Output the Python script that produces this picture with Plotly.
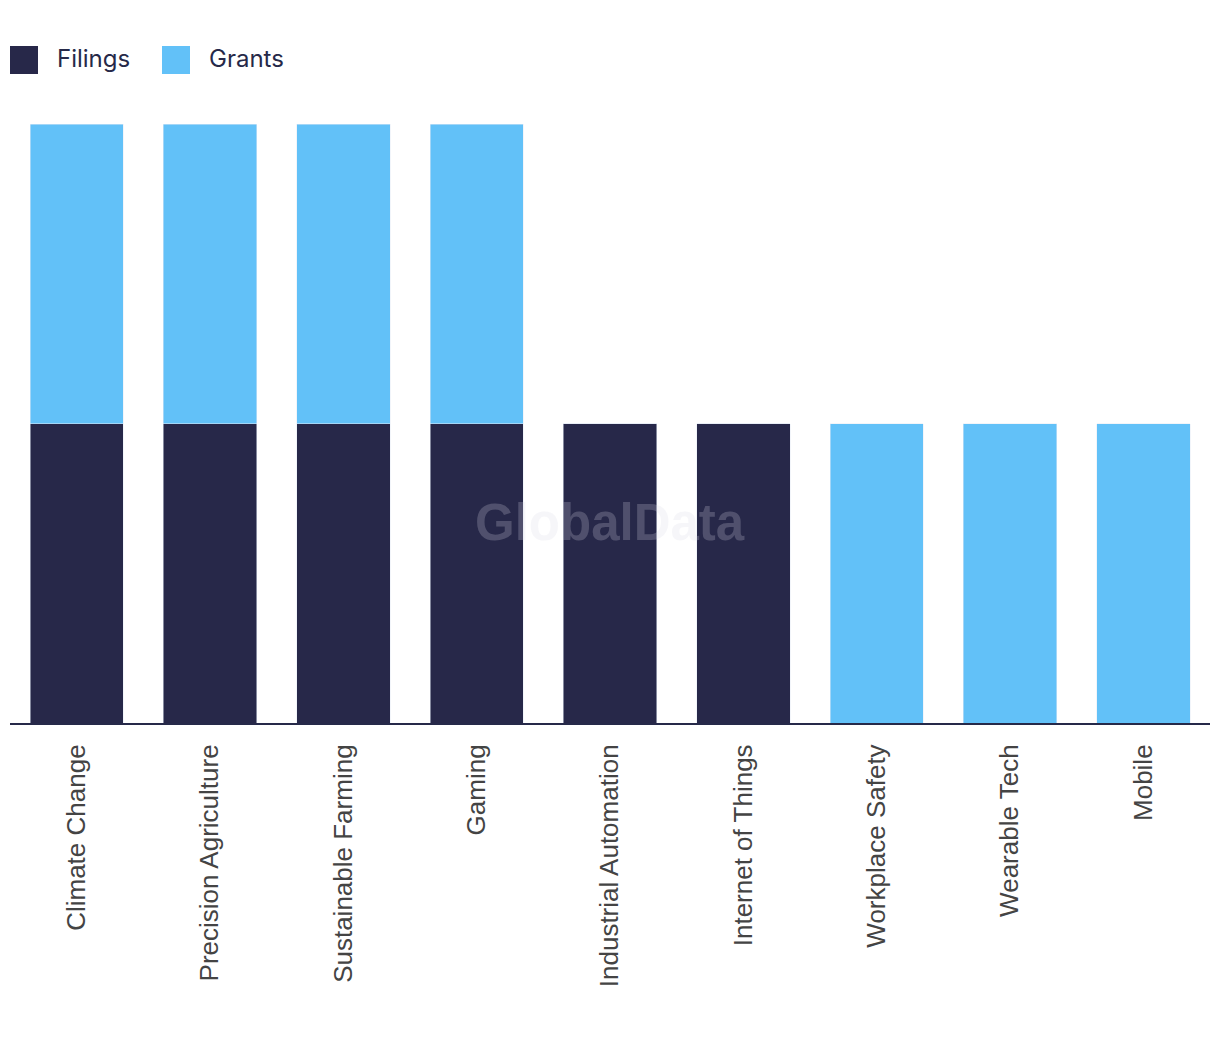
import plotly.graph_objects as go

categories = ["Climate Change", "Precision Agriculture", "Sustainable Farming", "Gaming",
              "Industrial Automation", "Internet of Things", "Workplace Safety",
              "Wearable Tech", "Mobile"]
filings = [1, 1, 1, 1, 1, 1, 0, 0, 0]
grants = [1, 1, 1, 1, 0, 0, 1, 1, 1]
series_names = ["Filings", "Grants"]

NAVY = "#272849"
BLUE = "#62C1F8"
W, H = 1220, 1042
OFF = 8  # page body margin offset

fig = go.Figure()
fig.add_trace(go.Bar(x=categories, y=filings, name=series_names[0], marker_color=NAVY))
fig.add_trace(go.Bar(x=categories, y=grants, name=series_names[1], marker_color=BLUE))

# manual legend (pixel-positioned squares + labels), relative to plot area (screen x 10..1210, y 124..723)
shapes, annotations = [], []
leg = [(series_names[0], NAVY, 10, 55), (series_names[1], BLUE, 162, 207)]
for name, col, sx, tx in leg:
    shapes.append(dict(type="rect", xref="paper", yref="paper",
                       x0=(sx - 10) / 1200, x1=(sx + 28 - 10) / 1200,
                       y0=(723 - 74) / 599, y1=(723 - 46) / 599,
                       fillcolor=col, line=dict(width=0)))
    annotations.append(dict(text=name, xref="paper", yref="paper",
                            x=(tx - 10) / 1200, y=(723 - 58) / 599,
                            xanchor="left", yanchor="middle", showarrow=False,
                            font=dict(family="Inter, sans-serif", size=24, color="#262949")))

annotations.append(dict(text="<b>GlobalData</b>", xref="paper", yref="paper",
                        x=0.5, y=(723 - 522) / 599, showarrow=False,
                        font=dict(family="Liberation Sans, Arial, sans-serif", size=51,
                                  color="rgba(215,215,228,0.23)")))

fig.update_layout(
    barmode="stack",
    bargap=0.3,
    width=W, height=H,
    showlegend=False,
    margin=dict(l=10 - OFF, r=10 + OFF, t=124 - OFF, b=H - 723 + OFF, autoexpand=False),
    plot_bgcolor="white", paper_bgcolor="white",
    font=dict(family="Inter, Liberation Sans, sans-serif", color="#262949"),
    xaxis=dict(showline=True, linecolor="#262949", linewidth=2, showgrid=False,
               tickangle=-90, ticklabelstandoff=9, automargin=False,
               tickfont=dict(family="Liberation Sans, Arial, sans-serif", size=26, color="#444444")),
    yaxis=dict(visible=False, range=[0, 2], showgrid=False),
    shapes=shapes,
    annotations=annotations,
)
fig.write_html("out.html")
